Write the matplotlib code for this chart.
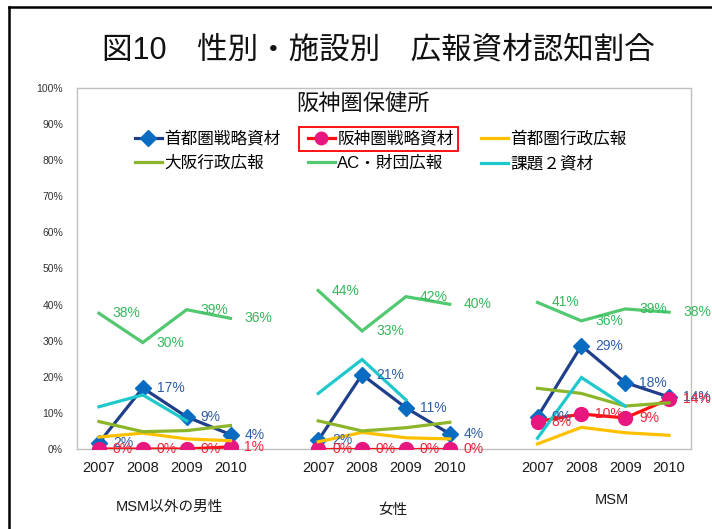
import numpy as np
import matplotlib as mpl
mpl.use('Agg')
import matplotlib.pyplot as plt
from matplotlib.lines import Line2D
from matplotlib.patches import Rectangle

plt.rcParams['font.family'] = ['Liberation Sans', 'Noto Sans CJK JP']

######################
## data (percent)
######################

groups = ['MSM以外の男性', '女性', 'MSM']
years = ['2007', '2008', '2009', '2010']

# values per group: [2007, 2008, 2009, 2010] x 3 groups
shuto_senryaku = [1.7, 16.9, 8.9, 4.0,   2.4, 20.6, 11.4, 4.2,   8.9, 28.6, 18.4, 14.4]
hanshin_senryaku = [0, 0, 0, 0.6,        0, 0, 0, 0,             7.6, 9.7, 8.6, 13.8]
shuto_gyosei = [3.3, 4.4, 2.8, 2.3,      2.0, 4.6, 3.1, 2.8,     1.4, 6.0, 4.5, 3.8]
osaka_gyosei = [7.6, 4.8, 5.1, 6.5,      7.8, 5.0, 5.9, 7.4,     16.8, 15.4, 11.9, 12.8]
ac_zaidan = [37.6, 29.5, 38.6, 36.2,     43.9, 32.7, 42.2, 40.1, 40.6, 35.5, 38.8, 37.9]
kadai2 = [11.7, 15.0, 7.8, np.nan,      15.4, 24.8, 13.6, np.nan, 3.0, 19.8, 11.9, np.nan]

series = [
    # label, values, line colour, marker, marker colour, value-label colour
    ('首都圏戦略資材', shuto_senryaku, '#1F3F8A', 'D', '#0A6CC0', '#2F5EA8'),
    ('阪神圏戦略資材', hanshin_senryaku, '#FF1010', 'o', '#E8177F', '#F0243C'),
    ('首都圏行政広報', shuto_gyosei, '#FFC000', None, None, None),
    ('大阪行政広報', osaka_gyosei, '#8DB52A', None, None, None),
    ('AC・財団広報', ac_zaidan, '#52C870', None, None, '#35B85A'),
    ('課題２資材', kadai2, '#1EC8CC', None, None, None),
]

######################
## setup plot
######################

W, H = 712, 529
fig = plt.figure(figsize=(W / 100, H / 100), dpi=100)
ax = fig.add_axes([77 / W, 1 - 449 / H, (691 - 77) / W, (449 - 88) / H])

ngroup = len(groups)
nyear = len(years)
slots = ngroup * (nyear + 1) - 1

handles = []
for name, vals, col, mk, mkcol, lblcol in series:
    vals = np.array(vals, dtype=float).reshape(ngroup, nyear)
    for g in range(ngroup):
        x = g * (nyear + 1) + np.arange(nyear) + 0.5
        ln, = ax.plot(x, vals[g], color=col, lw=2.3, marker=mk,
                      markersize=10 if mk == 'o' else 8.5,
                      markerfacecolor=mkcol, markeredgecolor=mkcol,
                      solid_joinstyle='miter', zorder=3)
        if lblcol:
            for xi, v in zip(x, vals[g]):
                if np.isnan(v):
                    continue
                ax.annotate('{:.0f}%'.format(v), (xi, v), xytext=(10, 0),
                            textcoords='offset points', ha='left', va='center',
                            fontsize=10, color=lblcol, zorder=4)
    handles.append(ln)

ax.set_xlim(0, slots)
ax.set_ylim(0, 100)
ax.set_yticks(np.arange(0, 101, 10))
ax.set_yticklabels(['{}%'.format(v) for v in range(0, 101, 10)], fontsize=7.5, color='#333333')
ax.tick_params(axis='y', length=0, pad=10)

xt = [g * (nyear + 1) + i + 0.5 for g in range(ngroup) for i in range(nyear)]
ax.set_xticks(xt)
ax.set_xticklabels(years * ngroup, fontsize=10.5, color='#1a1a1a')
ax.tick_params(axis='x', length=0, pad=9)

for s in ax.spines.values():
    s.set_color('#C0C0C0')
    s.set_linewidth(1)

## group names under the years
group_y = [507, 510, 500]
for g, name in enumerate(groups):
    xc = g * (nyear + 1) + nyear / 2 + (0.1 if g == 0 else 0.2)
    ax.text(xc, -(group_y[g] - 449) / 361, name, transform=ax.get_xaxis_transform(),
            fontsize=10.5, ha='center', va='center', color='#1a1a1a')

## chart titles
fig.text(378 / W, 1 - 50 / H, '図10　性別・施設別　広報資材認知割合', fontsize=22,
         ha='center', va='center', color='#111111')
ax.text(0.466, 0.955, '阪神圏保健所', transform=ax.transAxes, fontsize=16,
        ha='center', va='center', color='#111111')

## legend, filled row by row
order = [0, 3, 1, 4, 2, 5]
leg = ax.legend([handles[i] for i in order], [series[i][0] for i in order],
                ncol=3, loc='upper left', bbox_to_anchor=(0.081, 0.905),
                frameon=False, fontsize=12, handlelength=1.6, handletextpad=0.15,
                columnspacing=1.65, borderpad=0, labelspacing=0.55, markerscale=0.9)

## red box around the Hanshin entry
fig.canvas.draw()
r = fig.canvas.get_renderer()
bb_h = leg.legend_handles[2].get_window_extent(r)
bb_t = leg.get_texts()[2].get_window_extent(r)
x0 = min(bb_h.x0, bb_t.x0) - 3
x1 = bb_t.x1 + 4
y0 = min(bb_t.y0, bb_h.y0) - 4
y1 = max(bb_t.y1, bb_h.y1) + 4
fig.add_artist(Rectangle((x0 / W, y0 / H), (x1 - x0) / W, (y1 - y0) / H,
                         transform=fig.transFigure, fill=False, edgecolor='#FF0000', lw=1.3))

## outer frame (top and left only)
fig.add_artist(Line2D([9 / W, 1], [1 - 7 / H, 1 - 7 / H], color='black', lw=1.8))
fig.add_artist(Line2D([9 / W, 9 / W], [0, 1 - 7 / H], color='black', lw=1.8))

plt.savefig('out.png', dpi=100)
